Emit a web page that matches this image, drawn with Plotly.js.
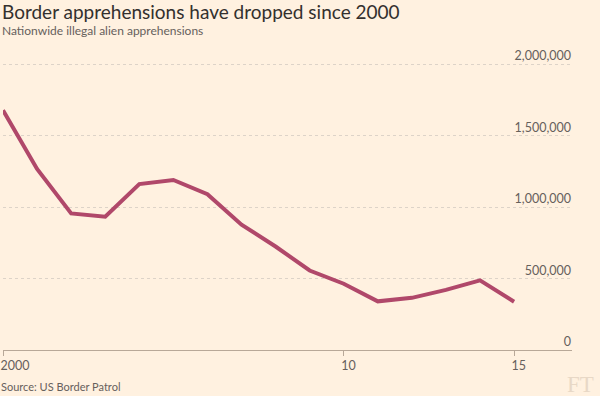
<!DOCTYPE html>
<html>
<head>
<meta charset="utf-8">
<script src="https://cdn.plot.ly/plotly-3.0.1.min.js"></script>
<style>
html,body{margin:0;padding:0;background:#fff1e0;}
#chart{width:600px;height:396px;}
</style>
</head>
<body>
<div id="chart"></div>
<script>
// Data (US Border Patrol, nationwide illegal alien apprehensions)
var years = [2000, 2001, 2002, 2003, 2004, 2005, 2006, 2007, 2008, 2009, 2010, 2011, 2012, 2013, 2014, 2015];
var apprehensions = [1676438, 1266214, 955310, 931557, 1160395, 1189075, 1089092, 876704, 723825, 556041, 463382, 340252, 364768, 420789, 486651, 337117];
var xTickVals = [2000, 2010, 2015];
var xTickText = ['2000', '10', '15'];
var yTickVals = [0, 500000, 1000000, 1500000, 2000000];
var yTickText = ['0', '500,000', '1,000,000', '1,500,000', '2,000,000'];

var FONT = 'Lato, "Open Sans", sans-serif';
// plot spans pixel rows 46..350; 0 at 350, 2,000,000 at 64  (71.5 px per 500,000)
var plotTop = 46, plotBottom = 350;
var yMax = 2000000 * (plotBottom - plotTop) / (plotBottom - 64);
function py(pix){ return (plotBottom - pix) / (plotBottom - plotTop); }

var trace = {
  x: years,
  y: apprehensions,
  type: 'scatter',
  mode: 'lines',
  line: {color: '#b0486a', width: 4},
  hoverinfo: 'skip'
};

var layout = {
  width: 600, height: 396,
  paper_bgcolor: '#fff1e0',
  plot_bgcolor: '#fff1e0',
  margin: {l: 3, r: 28, t: plotTop, b: 396 - plotBottom, pad: 0},
  showlegend: false,
  font: {family: FONT, color: '#66605c', size: 13},
  xaxis: {
    range: [2000, 2016.7],
    tickvals: xTickVals,
    ticktext: xTickText,
    ticks: 'outside',
    ticklen: 5,
    tickcolor: '#b8a898',
    tickwidth: 1,
    ticklabelposition: 'outside right',
    ticklabelshift: -3,
    ticklabelstandoff: 4,
    showgrid: false,
    zeroline: false,
    showline: false,
    tickfont: {family: FONT, size: 12.5, color: '#66605c'},
    fixedrange: true
  },
  yaxis: {
    range: [0, yMax],
    side: 'right',
    tickvals: yTickVals,
    ticktext: yTickText,
    ticks: '',
    ticklabelposition: 'inside',
    ticklabelshift: -8,
    ticklabelstandoff: -2,
    showgrid: true,
    gridcolor: '#ddd3c8',
    griddash: 'dot',
    gridwidth: 1,
    zeroline: true,
    zerolinecolor: '#b8a898',
    zerolinewidth: 1,
    showline: false,
    tickfont: {family: FONT, size: 12.5, color: '#66605c'},
    fixedrange: true
  },
  annotations: [
    {text: 'Border apprehensions have dropped since 2000', xref: 'paper', yref: 'paper',
     x: 0, y: py(11), xanchor: 'left', yanchor: 'middle', xshift: -3, showarrow: false,
     font: {family: FONT, size: 19, color: '#33302e'}},
    {text: 'Nationwide illegal alien apprehensions', xref: 'paper', yref: 'paper',
     x: 0, y: py(31), xanchor: 'left', yanchor: 'middle', xshift: -3, showarrow: false,
     font: {family: FONT, size: 12, color: '#66605c'}},
    {text: 'Source: US Border Patrol', xref: 'paper', yref: 'paper',
     x: 0, y: py(386), xanchor: 'left', yanchor: 'middle', xshift: -4, showarrow: false,
     font: {family: FONT, size: 11, color: '#66605c'}},
    {text: 'FT', xref: 'paper', yref: 'paper', borderpad: 0,
     x: 1, y: py(384), xanchor: 'right', yanchor: 'middle', xshift: 23, showarrow: false,
     font: {family: '"Liberation Serif", "DejaVu Serif", serif', size: 23, color: '#e8d8c6'}}
  ]
};

Plotly.newPlot('chart', [trace], layout, {displayModeBar: false, staticPlot: true});
</script>
</body>
</html>
